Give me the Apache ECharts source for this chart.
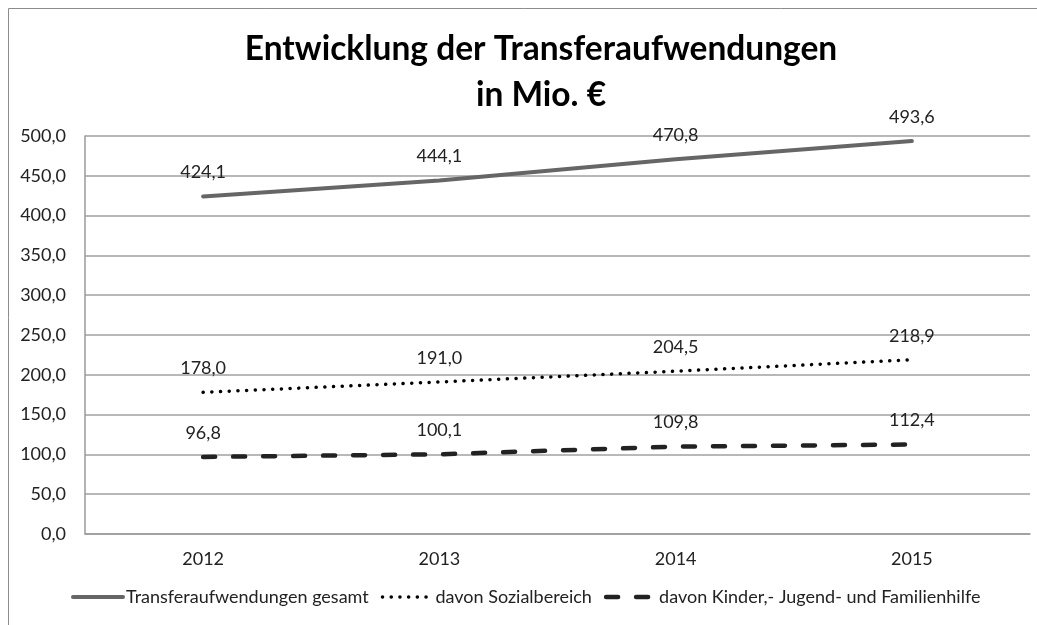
<!DOCTYPE html>
<html>
<head>
<meta charset="utf-8">
<script src="https://cdn.jsdelivr.net/npm/echarts@6/dist/echarts.min.js"></script>
<style>
  html, body { margin: 0; padding: 0; background: #fff; }
  #chart { width: 1037px; height: 625px; }
</style>
</head>
<body>
<div id="chart"></div>
<script>
var years = ['2012', '2013', '2014', '2015'];
var gesamt = [424.1, 444.1, 470.8, 493.6];
var sozial = [178.0, 191.0, 204.5, 218.9];
var kinder = [96.8, 100.1, 109.8, 112.4];
var seriesNames = ['Transferaufwendungen gesamt', 'davon Sozialbereich', 'davon Kinder,- Jugend- und Familienhilfe'];

var FONT = 'Lato';

function komma(v) {
    return Number(v).toFixed(1).replace('.', ',');
}

var myChart = echarts.init(document.getElementById('chart'));

var stile = [
    { color: '#666', width: 4, cap: 'round' },
    { color: '#000', width: 3.5, type: [0.1, 8.6], cap: 'round' },
    { color: '#222', width: 4.5, type: [12, 18], cap: 'round' }
];

var labelCfg = {
    show: true,
    position: 'top',
    distance: 15,
    color: '#222',
    fontFamily: FONT,
    fontSize: 18,
    formatter: function (p) { return komma(p.value); }
};

function linie(name, data, lineStyle) {
    return {
        name: name,
        type: 'line',
        data: data,
        symbol: 'circle',
        symbolSize: 0,
        showSymbol: true,
        itemStyle: { color: 'rgba(0,0,0,0)' },
        lineStyle: lineStyle,
        label: labelCfg,
        emphasis: { disabled: true }
    };
}

var option = {
    backgroundColor: '#fff',
    animation: false,
    title: {
        text: 'Entwicklung der Transferaufwendungen\nin Mio. €',
        left: 536,
        textAlign: 'center',
        top: 21,
        textStyle: {
            fontFamily: FONT,
            fontWeight: 'bold',
            fontSize: 33.5,
            lineHeight: 46,
            color: '#000'
        }
    },
    graphic: [{
        type: 'rect',
        shape: { x: 8.5, y: 8.5, width: 1200, height: 800 },
        style: { fill: 'none', stroke: '#8c8c8c', lineWidth: 1 },
        silent: true
    }],
    legend: {
        bottom: 14,
        left: 66,
        width: 1000,
        itemWidth: 50,
        itemHeight: 14,
        itemGap: 12,
        itemStyle: { opacity: 0 },
        textStyle: { fontFamily: FONT, fontSize: 18, color: '#222', padding: [0, 0, 0, -2] },
        data: seriesNames.map(function (n, i) {
            return { name: n, lineStyle: stile[i] };
        })
    },
    grid: { left: 85, right: 7, top: 136, bottom: 91 },
    xAxis: {
        type: 'category',
        data: years,
        boundaryGap: true,
        axisLine: { lineStyle: { color: '#9a9a9a', width: 1.5 } },
        axisTick: { show: false },
        axisLabel: { margin: 16, color: '#222', fontFamily: FONT, fontSize: 18 }
    },
    yAxis: {
        type: 'value',
        min: 0,
        max: 500,
        interval: 50,
        axisLine: { show: true, lineStyle: { color: '#9a9a9a', width: 1.5 } },
        axisTick: { show: false },
        splitLine: { lineStyle: { color: '#a0a0a0', width: 1.5 } },
        axisLabel: {
            margin: 19,
            color: '#222',
            fontFamily: FONT,
            fontSize: 18,
            formatter: komma
        }
    },
    series: [
        linie(seriesNames[0], gesamt, stile[0]),
        linie(seriesNames[1], sozial, stile[1]),
        linie(seriesNames[2], kinder, stile[2])
    ]
};

myChart.setOption(option);
</script>
</body>
</html>
